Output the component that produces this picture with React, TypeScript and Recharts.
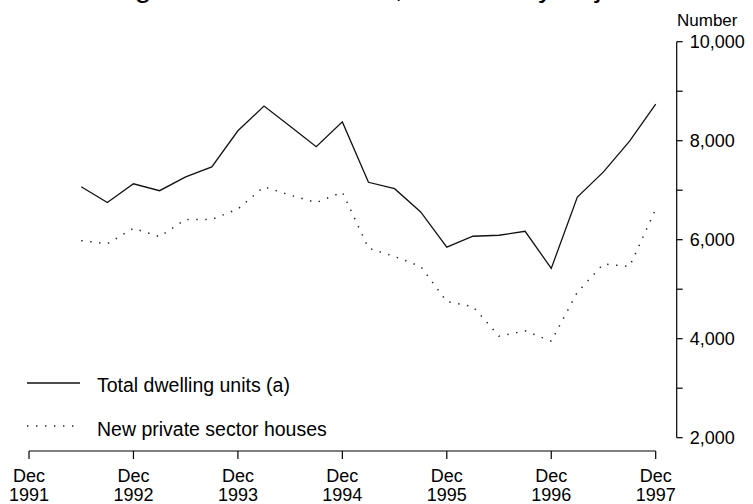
import React from 'react';
import { LineChart, Line, XAxis, YAxis } from 'recharts';

// quarterly, June 1992 to December 1997 (seasonally adjusted)
const quarters = [
  'Jun 1992', 'Sep 1992', 'Dec 1992', 'Mar 1993', 'Jun 1993', 'Sep 1993', 'Dec 1993',
  'Mar 1994', 'Jun 1994', 'Sep 1994', 'Dec 1994', 'Mar 1995', 'Jun 1995', 'Sep 1995',
  'Dec 1995', 'Mar 1996', 'Jun 1996', 'Sep 1996', 'Dec 1996', 'Mar 1997', 'Jun 1997',
  'Sep 1997', 'Dec 1997',
];
// quarters counted from Dec 1991
const quarterIndex = [2, 3, 4, 5, 6, 7, 8, 9, 10, 11, 12, 13, 14, 15, 16, 17, 18, 19, 20, 21, 22, 23, 24];

const totalDwellings = [
  7070, 6750, 7130, 6990, 7270, 7470, 8200, 8700, 8290, 7880, 8380, 7160,
  7030, 6560, 5850, 6070, 6090, 6170, 5420, 6860, 7370, 7990, 8740,
];
const privateHouses = [
  5980, 5920, 6230, 6060, 6410, 6410, 6620, 7070, 6900, 6750, 6960, 5830,
  5660, 5460, 4750, 4650, 4050, 4160, 3950, 4940, 5510, 5460, 6620,
];

const xTicks = [0, 4, 8, 12, 16, 20, 24];
const xTickLabels = ['1991', '1992', '1993', '1994', '1995', '1996', '1997'];
const yTicks = [2000, 3000, 4000, 5000, 6000, 7000, 8000, 9000, 10000];

const FONT = '"Liberation Sans", Arial, sans-serif';
const DOTS = '1.4 7.6';

const data = quarters.map((q, i) => ({
  quarter: q,
  t: quarterIndex[i],
  total: totalDwellings[i],
  houses: privateHouses[i],
}));

const XTick: React.FC<any> = ({ x, y, payload }) => {
  const i = xTicks.indexOf(payload.value);
  return (
    <g>
      <line x1={x} x2={x} y1={y + 13.3} y2={y + 21.3} stroke="#000" strokeWidth={1.2} />
      <text x={x} y={y + 44.5} textAnchor="middle" fontSize={18} fontFamily={FONT} fill="#000">Dec</text>
      <text x={x} y={y + 63} textAnchor="middle" fontSize={18} fontFamily={FONT} fill="#000">{xTickLabels[i]}</text>
    </g>
  );
};

const YTick: React.FC<any> = ({ x, y, payload }) => {
  const ax = x + 21;
  return (
    <g>
      <line x1={ax} x2={ax + 6} y1={y} y2={y} stroke="#000" strokeWidth={1.2} />
      {payload.value % 2000 === 0 && (
        <text x={ax + 13} y={y + 6.5} fontSize={18} fontFamily={FONT} fill="#000">
          {payload.value.toLocaleString('en-US')}
        </text>
      )}
    </g>
  );
};

const App: React.FC = () => {
  return (
    <div style={{ position: 'absolute', left: 0, top: -30, width: 753, height: 534 }}>
      <div style={{ position: 'absolute', left: 38, top: 0, fontFamily: FONT, fontSize: 30, lineHeight: '34px', whiteSpace: 'nowrap' }}>
        Dwelling units commenced, seasonally adjusted
      </div>
      <div style={{ position: 'absolute', left: 677, top: 41, fontFamily: FONT, fontSize: 17, lineHeight: '20px' }}>
        Number
      </div>
      <LineChart width={753} height={534} data={data} margin={{ top: 71.7, right: 7.3, bottom: 6.3, left: 29 }}>
        <XAxis
          dataKey="t"
          type="number"
          domain={[0, 24]}
          ticks={xTicks}
          tickLine={false}
          tickSize={0}
          tickMargin={0}
          height={60}
          axisLine={{ stroke: '#000', strokeWidth: 1.2, transform: 'translate(0 13.3)' }}
          tick={<XTick />}
          interval={0}
        />
        <YAxis
          orientation="right"
          domain={[2000, 10000]}
          ticks={yTicks}
          tickLine={false}
          tickSize={0}
          tickMargin={0}
          width={90}
          axisLine={{ stroke: '#000', strokeWidth: 1.2, transform: 'translate(21 0)' }}
          tick={<YTick />}
          interval={0}
        />
        <Line dataKey="total" stroke="#111" strokeWidth={1.3} dot={false} isAnimationActive={false} />
        <Line dataKey="houses" stroke="#222" strokeWidth={1.5} strokeDasharray={DOTS} dot={false} isAnimationActive={false} />
      </LineChart>
      <svg style={{ position: 'absolute', left: 0, top: 0 }} width={330} height={534}>
        <line x1={27} x2={80} y1={413} y2={413} stroke="#111" strokeWidth={1.3} />
        <text x={97} y={421.5} fontSize={19.5} fontFamily={FONT} fill="#000">Total dwelling units (a)</text>
        <line x1={27} x2={74} y1={456} y2={456} stroke="#222" strokeWidth={1.5} strokeDasharray={DOTS} />
        <text x={97} y={465.5} fontSize={19.5} fontFamily={FONT} fill="#000">New private sector houses</text>
      </svg>
    </div>
  );
};

export default App;
